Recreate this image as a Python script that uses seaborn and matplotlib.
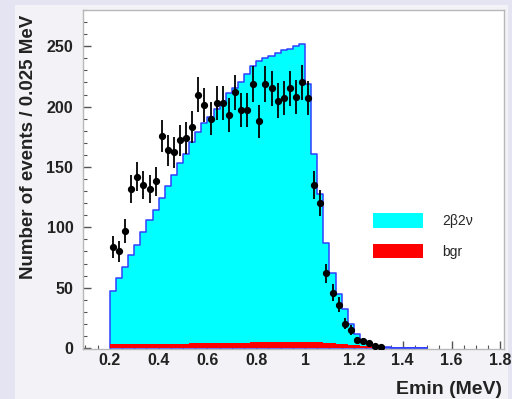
import numpy as np
import pandas as pd
import matplotlib
matplotlib.use("Agg")
import matplotlib.pyplot as plt
from matplotlib.patches import Rectangle, Patch
from matplotlib.ticker import MultipleLocator, FuncFormatter
import seaborn as sns

# ---------------- data ----------------
bin_width = 0.025
bin_start = 0.2
# simulated 2b2v spectrum (cyan), counts per 0.025 MeV bin starting at 0.2 MeV
mc_2b2v = [47, 58, 67, 77, 85, 96, 106, 114, 124, 134,
           143, 153, 161, 171, 179, 186, 191, 198, 203, 211,
           215, 220, 227, 234, 238, 240, 242, 244, 247, 248,
           250, 252, 219, 161, 128, 87, 62, 45, 32, 20,
           12, 7, 4, 2, 1, 0.6, 0.4, 0.3, 0.2, 0.2,
           0.1, 0.1]
# background (red)
mc_bgr = [3.0, 3.0, 3.0, 3.0, 3.0, 3.2, 3.3, 3.4, 3.5, 3.5,
          3.6, 3.6, 3.7, 3.8, 3.8, 3.9, 4.0, 4.0, 4.1, 4.2,
          4.3, 4.4, 4.5, 4.7, 4.8, 5.0, 5.1, 5.2, 5.3, 5.4,
          5.4, 5.4, 5.3, 5.0, 4.6, 4.2, 3.8, 3.4, 3.0, 2.6,
          2.2, 1.8, 1.4, 1.0, 0.6, 0.3, 0.1, 0.0, 0.0, 0.0,
          0.0, 0.0]
# measured data points (black), same binning from 0.2 MeV
data_counts = [84, 80, 97, 132, 142, 135, 132, 138, 176, 164,
               162, 172, 174, 183, 210, 201, 190, 203, 203, 193,
               212, 197, 197, 219, 188, 219, 215, 205, 207, 215,
               208, 220, 207, 135, 120, 62, 46, 36, 20, 15,
               6.5, 6, 4, 1.6, 0.5]

legend_labels = ["2β2ν", "bgr"]
x_label = "Emin (MeV)"
y_label = "Number of events / 0.025 MeV"

# ---------------- derived ----------------
n_mc = len(mc_2b2v)
edges = [bin_start + bin_width * i for i in range(n_mc + 1)]
centers = [0.5 * (edges[i] + edges[i + 1]) for i in range(n_mc)]
df_mc = pd.DataFrame({"E": centers, "sig": mc_2b2v, "bgr": mc_bgr})
data_x = np.array(centers[:len(data_counts)])
data_y = np.array(data_counts, dtype=float)
data_err = np.sqrt(data_y)

# ---------------- figure ----------------
sns.set_style("white")
plt.rcParams["font.family"] = ["Liberation Sans", "DejaVu Sans"]

fig = plt.figure(figsize=(5.12, 3.99), dpi=100)
fig.patch.set_facecolor("#e4e4f3")
fig.patches.append(Rectangle((15 / 512, 0), (508 - 15) / 512, (399 - 5) / 399,
                             transform=fig.transFigure, facecolor="#f3f3f7",
                             edgecolor="none", zorder=-10))

ax = fig.add_axes([83 / 512, (399 - 349) / 399, (504 - 83) / 512, (349 - 10) / 399])
ax.set_facecolor("white")

sns.histplot(data=df_mc, x="E", weights="sig", bins=edges, element="step", fill=True,
             color="#00ffff", edgecolor="#3040ff", linewidth=1.1, alpha=1.0, ax=ax)
sns.histplot(data=df_mc, x="E", weights="bgr", bins=edges, element="step", fill=True,
             color="#ff0000", edgecolor="none", linewidth=0, alpha=1.0, ax=ax)

ax.errorbar(data_x, data_y, yerr=data_err, fmt="o", color="black", ms=4.2,
            elinewidth=1.3, capsize=0, zorder=5)

ax.set_xlim(0.09, 1.815)
ax.set_ylim(-0.8, 280)

ax.xaxis.set_major_locator(MultipleLocator(0.2))
ax.xaxis.set_minor_locator(MultipleLocator(0.05))
ax.yaxis.set_major_locator(MultipleLocator(50))
ax.yaxis.set_minor_locator(MultipleLocator(10))
ax.xaxis.set_major_formatter(FuncFormatter(lambda v, p: f"{v:g}"))
ax.yaxis.set_major_formatter(FuncFormatter(lambda v, p: f"{v:g}"))

ax.tick_params(axis="both", which="both", direction="in", colors="#555555",
               labelcolor="#222222", labelsize=11.5, bottom=True, left=True,
               top=False, right=False)
ax.tick_params(axis="both", which="major", length=6, width=1)
ax.tick_params(axis="both", which="minor", length=3, width=0.8)
ax.tick_params(axis="y", which="major", pad=7)
ax.tick_params(axis="x", which="major", pad=3)
for lab in ax.get_xticklabels() + ax.get_yticklabels():
    lab.set_fontweight("bold")

for s in ax.spines.values():
    s.set_color("#b8b8b8")
    s.set_linewidth(1)

ax.set_xlabel(x_label, fontsize=14, fontweight="bold", color="#222222", loc="right")
ax.set_ylabel(y_label, fontsize=13.5, fontweight="bold", color="#222222", loc="top")
ax.xaxis.set_label_coords(0.995, -0.094)
ax.yaxis.set_label_coords(-0.11, 0.985)

handles = [Patch(facecolor="#00ffff", edgecolor="none"),
           Patch(facecolor="#ff0000", edgecolor="none")]
ax.legend(handles, legend_labels, loc="upper left", bbox_to_anchor=(0.689, 0.40),
          frameon=False, fontsize=10, handlelength=3.6, handleheight=1.25,
          labelspacing=1.1, handletextpad=1.4, borderpad=0, borderaxespad=0)

fig.savefig("out.png", dpi=100, facecolor=fig.get_facecolor())
